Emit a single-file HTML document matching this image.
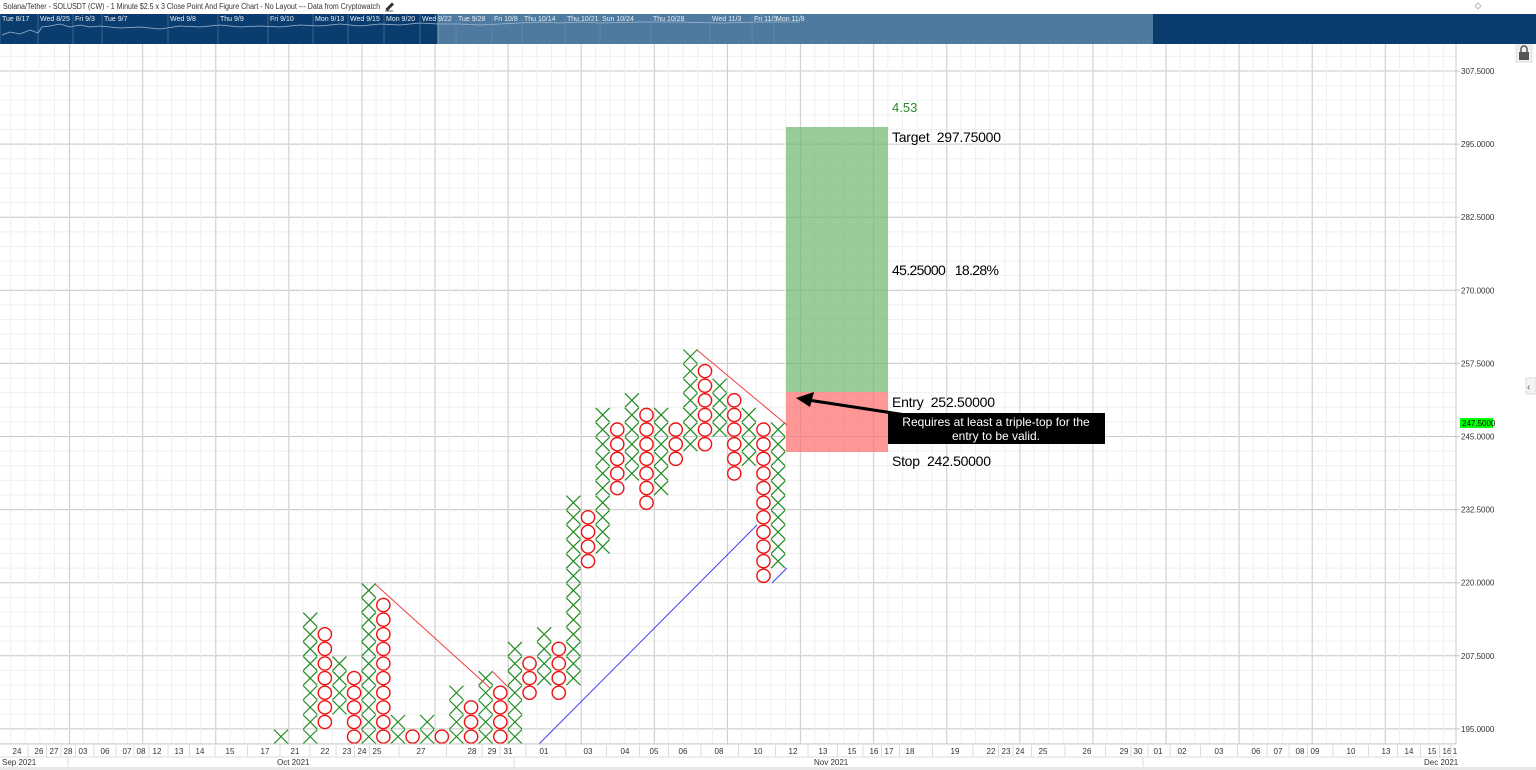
<!DOCTYPE html>
<html><head><meta charset="utf-8"><style>
html,body{margin:0;padding:0;background:#fff;width:1536px;height:770px;overflow:hidden}
svg{display:block;font-family:"Liberation Sans",sans-serif}
</style></head><body>
<svg id="s" width="1536" height="770" viewBox="0 0 1536 770" xmlns="http://www.w3.org/2000/svg">
<rect x="0" y="0" width="1536" height="770" fill="#fff"/>
<g id="grid"></g>
<rect x="786" y="127" width="102" height="265" fill="#6cb86c" fill-opacity="0.7"/>
<rect x="786" y="392" width="102" height="60" fill="#ff6b6b" fill-opacity="0.7"/>
<g id="pf"></g>
<line x1="697" y1="350" x2="787" y2="425" stroke="#f04040" stroke-width="1"/>
<line x1="375" y1="584" x2="490" y2="688" stroke="#f04040" stroke-width="1"/>
<line x1="493" y1="672" x2="508" y2="687" stroke="#f04040" stroke-width="1"/>
<line x1="538" y1="745" x2="757" y2="525" stroke="#4040f0" stroke-width="1"/>
<line x1="772" y1="583" x2="787" y2="568" stroke="#4040f0" stroke-width="1"/>
<text x="892" y="112" font-size="13" fill="#2a8a2a">4.53</text>
<text x="892" y="142" font-size="14" fill="#000" textLength="109">Target&#160;&#160;297.75000</text>
<text x="892" y="275" font-size="14" fill="#000" textLength="107">45.25000&#160;&#160;&#160;18.28%</text>
<text x="892" y="407" font-size="14" fill="#000" textLength="103">Entry&#160;&#160;252.50000</text>
<text x="892" y="466" font-size="14" fill="#000" textLength="99">Stop&#160;&#160;242.50000</text>
<rect x="888" y="413" width="217" height="31" fill="#000"/>
<text x="996" y="426" font-size="12" fill="#fff" text-anchor="middle">Requires at least a triple-top for the</text>
<text x="996" y="440" font-size="12" fill="#fff" text-anchor="middle">entry to be valid.</text>
<line x1="906" y1="415" x2="808" y2="400" stroke="#000" stroke-width="3"/>
<polygon points="796,398 814,392 810,407" fill="#000"/>
<line x1="1456" y1="44" x2="1456" y2="744" stroke="#c8c8c8"/>
<g id="ax" font-size="8" fill="#333"></g>
<rect x="1460" y="418" width="33" height="10" fill="#00ff00"/>
<text x="1462" y="426" font-size="8" fill="#000">247.5000</text>
<rect x="1516" y="45" width="16" height="17" fill="#f0f0f0" stroke="#ddd"/>
<rect x="1519" y="52" width="10" height="8" fill="#555"/>
<path d="M1521 52 v-3 a3 3 0 0 1 6 0 v3" fill="none" stroke="#555" stroke-width="1.5"/>
<rect x="1526" y="378" width="10" height="16" fill="#f4f4f4" stroke="#ddd"/>
<text x="1527" y="390" font-size="10" fill="#555">&#8249;</text>
<rect x="0" y="744" width="1456" height="26" fill="#fff"/>
<line x1="0" y1="744" x2="1456" y2="744" stroke="#ccc"/>
<line x1="0" y1="757" x2="1456" y2="757" stroke="#ddd"/>
<rect x="0" y="767" width="1536" height="3" fill="#e8e8e8"/>
<g id="bx" font-size="8" fill="#333"></g>
<text x="2" y="765" font-size="8" fill="#333">Sep 2021</text>
<text x="277" y="765" font-size="8" fill="#333">Oct 2021</text>
<text x="814" y="765" font-size="8" fill="#333">Nov 2021</text>
<text x="1424" y="765" font-size="8" fill="#333">Dec 2021</text>
<line x1="68" y1="757" x2="68" y2="767" stroke="#ddd"/>
<line x1="514" y1="757" x2="514" y2="767" stroke="#ddd"/>
<line x1="1143" y1="757" x2="1143" y2="767" stroke="#ddd"/>
<text x="3" y="9" font-size="8" fill="#333" textLength="377" lengthAdjust="spacingAndGlyphs">Solana/Tether - SOLUSDT (CW) - 1 Minute $2.5 x 3 Close Point And Figure Chart - No Layout --- Data from Cryptowatch</text>
<path d="M386 9 l6 -6 l1.5 1.5 l-6 6 z M385 11 h8" stroke="#333" fill="#333" stroke-width="0.8"/>
<path d="M1475 6 l3 -3 l3 3 l-3 3 z" fill="none" stroke="#bbb"/>
<rect x="0" y="14" width="1536" height="30" fill="#0a3d6e"/>
<rect x="438" y="14" width="715" height="30" fill="#4f7aa0"/>
<line x1="438" y1="14" x2="438" y2="44" stroke="#8aa" />
<polyline points="2,35 10,32 20,34 30,30 38,33 42,27 50,26 60,24 70,27 80,25 90,27 100,26 120,28 140,27 160,29 180,26 200,27 220,25 240,27 260,26 280,27 300,25 320,26 340,24 360,26 380,24 400,25 420,23 438,24 460,24 480,25 500,24 520,23 540,22 560,23 580,22 600,23 640,22 680,22 720,23 760,22 800,22" fill="none" stroke="#9fb8d0" stroke-width="0.8"/>
<g id="nav" font-size="7" fill="#e8eef5"></g>
</svg>
<script>
var NS="http://www.w3.org/2000/svg";
function el(p,t,a,txt){var e=document.createElementNS(NS,t);for(var k in a)e.setAttribute(k,a[k]);if(txt!==undefined)e.textContent=txt;document.getElementById(p).appendChild(e);return e;}
for(var y=71-14.62*2;y<744;y+=14.62){ if(y<44)continue; el("grid","line",{x1:0,x2:1456,y1:y,y2:y,stroke:"#efefef"});}
for(var i=0;i<10;i++){var y=71+i*73.1;el("grid","line",{x1:0,x2:1460,y1:y,y2:y,stroke:"#c8c8c8"});}
for(var x=288.4-14.62*20;x<1456;x+=14.62){ if(x<0)continue; el("grid","line",{x1:x,x2:x,y1:44,y2:744,stroke:"#efefef"});}
for(var x=362-73.1*5;x<1456;x+=73.1){ if(x<0)continue; el("grid","line",{x1:x,x2:x,y1:44,y2:744,stroke:"#d0d0d0"});}
var labs=["307.5000","295.0000","282.5000","270.0000","257.5000","245.0000","232.5000","220.0000","207.5000","195.0000"];
for(var i=0;i<10;i++){el("ax","text",{x:1461,y:71+i*73.1+3},labs[i]);}
var cols=[["X",-1,-1],["O",-2,-2],["X",-1,7],["O",0,6],["X",1,4],["O",-1,3],["X",-1,9],["O",-1,8],["X",-1,0],["O",-1,-1],["X",-1,0],["O",-1,-1],["X",-1,2],["O",-1,1],["X",-1,3],["O",-1,2],["X",-1,5],["O",2,4],["X",3,6],["O",2,5],["X",3,15],["O",11,14],["X",12,21],["O",16,20],["X",17,22],["O",15,21],["X",16,21],["O",18,20],["X",19,25],["O",19,24],["X",20,23],["O",17,22],["X",18,21],["O",10,20],["X",11,20]];
for(var c=0;c<cols.length;c++){var cx=281+c*14.62,t=cols[c][0];
 for(var r=cols[c][1];r<=cols[c][2];r++){var cy=722-14.62*r;
  if(t=="X"){el("pf","path",{d:"M"+(cx-7)+" "+(cy-7)+"L"+(cx+7)+" "+(cy+7)+"M"+(cx+7)+" "+(cy-7)+"L"+(cx-7)+" "+(cy+7),stroke:"#1f8a1f","stroke-width":"1.2",fill:"none"});}
  else{el("pf","circle",{cx:cx,cy:cy,r:6.6,stroke:"#ee1111","stroke-width":"1.4",fill:"#fff"});}
 }}
var d=[["24",17],["26",39],["27",54],["28",68],["03",83],["06",105],["07",127],["08",141],["12",157],["13",179],["14",200],["15",230],["17",265],["21",295],["22",325],["23",347],["24",362],["25",377],["27",421],["28",472],["29",492],["31",508],["01",544],["03",588],["04",625],["05",654],["06",683],["08",719],["10",758],["12",793],["13",823],["15",852],["16",874],["17",889],["18",910],["19",955],["22",991],["23",1006],["24",1020],["25",1043],["26",1087],["29",1124],["30",1138],["01",1158],["02",1182],["03",1219],["06",1256],["07",1278],["08",1300],["09",1315],["10",1351],["13",1386],["14",1409],["15",1432],["16",1447],["1",1455]];
for(var i=0;i<d.length;i++){el("bx","text",{x:d[i][1],y:754,"text-anchor":"middle"},d[i][0]);
 if(i<d.length-1){var m=(d[i][1]+d[i+1][1])/2;el("bx","line",{x1:m,x2:m,y1:745,y2:757,stroke:"#ddd"});}}
var n=[["Tue 8/17",2],["Wed 8/25",40],["Fri 9/3",75],["Tue 9/7",104],["Wed 9/8",170],["Thu 9/9",220],["Fri 9/10",270],["Mon 9/13",315],["Wed 9/15",350],["Mon 9/20",386],["Wed 9/22",422],["Tue 9/28",458],["Fri 10/8",494],["Thu 10/14",524],["Thu 10/21",567],["Sun 10/24",602],["Thu 10/28",653],["Wed 11/3",712],["Fri 11/5",754],["Mon 11/8",776]];
for(var i=0;i<n.length;i++){el("nav","text",{x:n[i][1],y:21},n[i][0]);el("nav","line",{x1:n[i][1]-2,x2:n[i][1]-2,y1:14,y2:44,stroke:"#6f8fb0","stroke-width":"0.5"});}
</script>
</body></html>
